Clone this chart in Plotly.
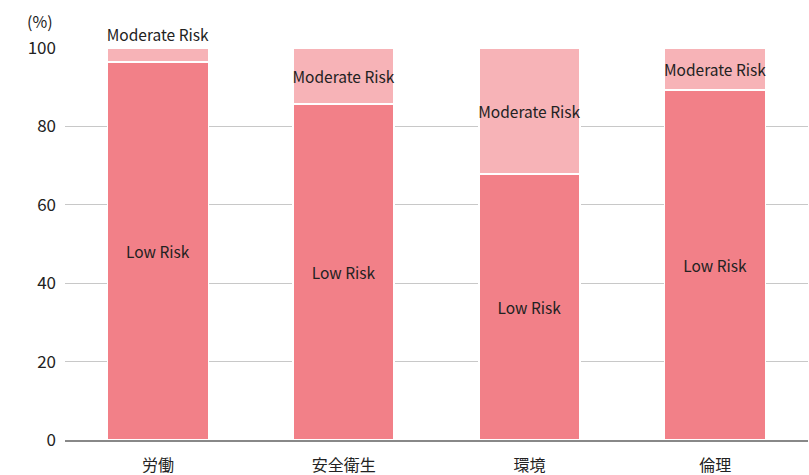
import plotly.graph_objects as go

categories = ["労働", "安全衛生", "環境", "倫理"]
low_risk = [96.4, 85.7, 67.9, 89.3]
moderate_risk = [3.6, 14.3, 32.1, 10.7]
y_ticks = [0, 20, 40, 60, 80, 100]

FONT = "Noto Sans CJK JP"

fig = go.Figure()
fig.add_trace(go.Bar(
    x=categories, y=low_risk, name="Low Risk",
    marker=dict(color="#f28088", line=dict(color="white", width=1.5)),
    text=["Low Risk"] * 4, textposition="inside", insidetextanchor="middle",
    textfont=dict(family=FONT, size=15.5, color="#222"),
    textangle=0, constraintext="none", hoverinfo="skip",
))
fig.add_trace(go.Bar(
    x=categories, y=moderate_risk, name="Moderate Risk",
    marker=dict(color="#f7b3b7", line=dict(color="white", width=1.5)),
    text=["Moderate Risk"] * 4,
    textposition=["outside", "inside", "inside", "inside"],
    insidetextanchor="middle",
    textfont=dict(family=FONT, size=15.5, color="#222"),
    textangle=0, constraintext="none", cliponaxis=False, hoverinfo="skip",
))

fig.update_layout(
    barmode="stack",
    bargap=0.456,
    width=809, height=475,
    margin=dict(l=65, r=1, t=48, b=35),
    plot_bgcolor="white", paper_bgcolor="white",
    showlegend=False,
    font=dict(family=FONT, size=17, color="#222"),
    uniformtext=dict(mode=False),
)
fig.update_yaxes(
    range=[0, 100], tickvals=y_ticks, showgrid=True, gridcolor="#c8c8c8",
    gridwidth=1, zeroline=False, showline=False, ticks="", automargin=False,
    tickfont=dict(family=FONT, size=17, color="#222"), ticklabelstandoff=8,
)
fig.update_xaxes(
    showline=True, linecolor="#888", linewidth=2, ticks="", automargin=False,
    tickfont=dict(family=FONT, size=16, color="#222"), ticklabelstandoff=10,
)
fig.add_annotation(
    text="(%)", xref="paper", yref="paper", x=-0.034, y=1.0, yshift=27,
    showarrow=False, xanchor="center", yanchor="middle",
    font=dict(family=FONT, size=16, color="#222"),
)

fig.write_html("out.html")
